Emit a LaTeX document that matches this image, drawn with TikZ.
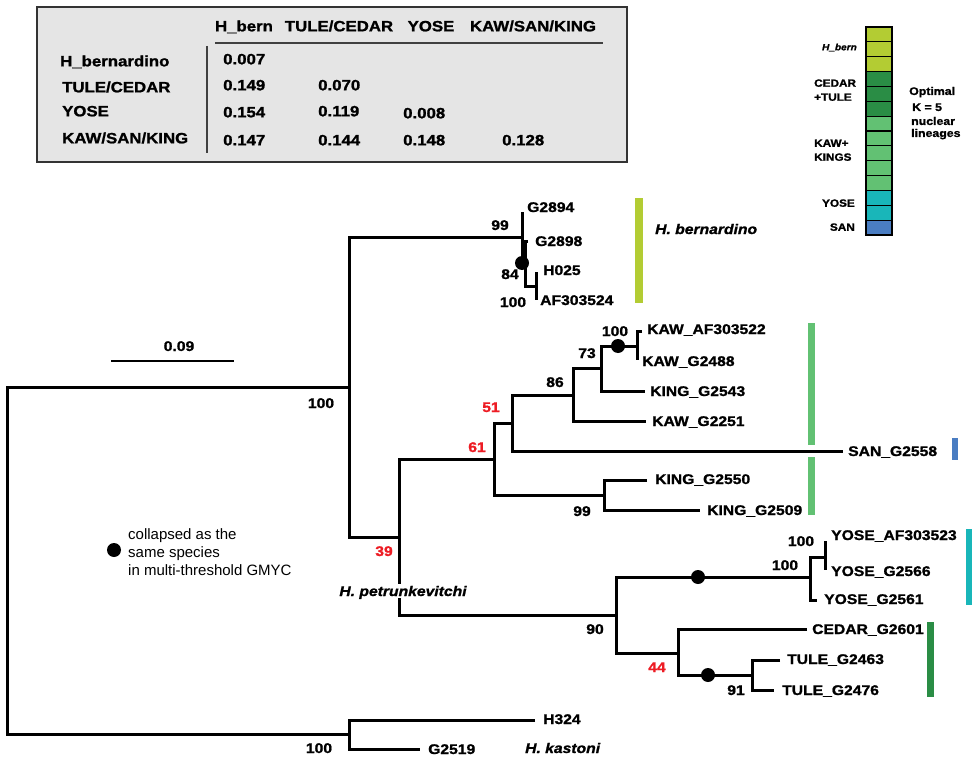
\documentclass[tikz,border=0pt]{standalone}
\usepackage{fontspec}
\setmainfont{Liberation Sans}[FakeStretch=1.12, BoldFeatures={FakeBold=1.3}, BoldItalicFeatures={FakeBold=1.3}]
\newfontfamily\plainsans{Liberation Sans}
\definecolor{cbern}{HTML}{B3CC33}
\definecolor{ckaw}{HTML}{62C173}
\definecolor{cteal}{HTML}{19B6B9}
\definecolor{cdkg}{HTML}{2A8D45}
\definecolor{cblue}{HTML}{4A7DC2}
\definecolor{ctab}{HTML}{E5E5E5}
\definecolor{cred}{HTML}{ED1C24}
\begin{document}
\begin{tikzpicture}[x=1pt,y=-1pt,
  br/.style={line width=3pt, line join=miter},
  tip/.style={anchor=west, inner sep=0pt, text height=10pt, text depth=0pt, font=\fontsize{14}{16}\selectfont\bfseries},
  spc/.style={anchor=west, inner sep=0pt, text height=10pt, text depth=0pt, font=\fontsize{14}{16}\selectfont\bfseries\itshape},
  supp/.style={inner sep=0pt, text height=10pt, text depth=0pt, font=\fontsize{14}{16}\selectfont\bfseries},
  rsupp/.style={supp, text=cred},
  tab/.style={inner sep=0pt, text height=10.7pt, text depth=0pt, font=\fontsize{15}{17}\selectfont\bfseries},
  leg/.style={anchor=west, inner sep=0pt, text height=7.5pt, text depth=0pt, font=\fontsize{10.5}{12}\selectfont\bfseries},
  opt/.style={anchor=west, inner sep=0pt, text height=7.9pt, text depth=0pt, font=\fontsize{11}{13}\selectfont\bfseries},
  dot/.style={circle, fill=black, inner sep=0pt, minimum size=14pt},
  cell/.style={draw=black, line width=1.2pt},
  bar/.style={draw=none}
]
\useasboundingbox (0,0) rectangle (972,757);

% ---------------- table ----------------
\draw[fill=ctab, draw=black!80, line width=1.5pt] (37,7) rectangle (627,162);
\node[tab] (h1) at (244,26) {H\_bern};
\node[tab] (h2) at (339,26) {TULE/CEDAR};
\node[tab] (h3) at (431,26) {YOSE};
\node[tab] (h4) at (533,26) {KAW/SAN/KING};
\coordinate (hl1) at (215,43); \coordinate (hl2) at (603,43);
\draw[line width=1.5pt, black!75] (hl1) -- (hl2);
\coordinate (vl1) at (207,46); \coordinate (vl2) at (207,153);
\draw[line width=1.5pt, black!75] (vl1) -- (vl2);
\node[tab, anchor=west] (r1) at (60,61) {H\_bernardino};
\node[tab, anchor=west] (r2) at (62,87) {TULE/CEDAR};
\node[tab, anchor=west] (r3) at (62,111) {YOSE};
\node[tab, anchor=west] (r4) at (62,138) {KAW/SAN/KING};
\node[tab, anchor=west] (v11) at (223,59) {0.007};
\node[tab, anchor=west] (v21) at (223,85) {0.149};
\node[tab, anchor=west] (v22) at (318,85) {0.070};
\node[tab, anchor=west] (v31) at (223,112) {0.154};
\node[tab, anchor=west] (v32) at (318,111) {0.119};
\node[tab, anchor=west] (v33) at (403,113) {0.008};
\node[tab, anchor=west] (v41) at (223,140) {0.147};
\node[tab, anchor=west] (v42) at (318,140) {0.144};
\node[tab, anchor=west] (v43) at (403,140) {0.148};
\node[tab, anchor=west] (v44) at (502,140) {0.128};

% ---------------- legend bar ----------------
\foreach \i/\c in {0/cbern,1/cbern,2/cbern,3/cdkg,4/cdkg,5/cdkg,6/ckaw,7/ckaw,8/ckaw,9/ckaw,10/ckaw,11/cteal,12/cteal,13/cblue}{
  \draw[cell, fill=\c] (866,{27+\i*14.857}) rectangle (892,{27+(\i+1)*14.857});
}
\node[inner sep=0pt, anchor=east, text height=6.5pt, text depth=0pt, font=\fontsize{9}{11}\selectfont\bfseries\itshape] (lb0) at (857,47) {H\_bern};
\node[leg] (lb1) at (814,83) {CEDAR};
\node[leg] (lb2) at (814,97) {+TULE};
\node[leg] (lb3) at (814,143) {KAW+};
\node[leg] (lb4) at (814,157) {KINGS};
\node[leg, anchor=east] (lb5) at (855,203) {YOSE};
\node[leg, anchor=east] (lb6) at (855,227) {SAN};
\node[opt] (o1) at (909,91) {Optimal};
\node[opt] (o2) at (912,107) {K = 5};
\node[opt] (o3) at (911,121) {nuclear};
\node[opt] (o4) at (911,133) {lineages};

% ---------------- tree coordinates ----------------
\coordinate (R) at (7,560);
\coordinate (I) at (349,387);
\coordinate (O) at (349,734);
\coordinate (B1) at (522,237);
\coordinate (B2) at (525,263);
\coordinate (B3) at (536,286);
\coordinate (tG2894) at (522,212);
\coordinate (tG2898) at (528,241);
\coordinate (tH025) at (536,272);
\coordinate (tAF4) at (536,300);
\coordinate (P) at (399,537);
\coordinate (N61) at (494,459);
\coordinate (N51) at (512,423);
\coordinate (N86) at (573,395);
\coordinate (N73) at (601,368);
\coordinate (N100) at (637,346);
\coordinate (tKAW22) at (642,331);
\coordinate (tKAW88) at (637,360);
\coordinate (tKING43) at (645,391);
\coordinate (tKAW51) at (646,421);
\coordinate (tSAN) at (843,451);
\coordinate (N99) at (604,495);
\coordinate (tKING50) at (647,480);
\coordinate (tKING09) at (700,510);
\coordinate (N90) at (616,615);
\coordinate (NY) at (810,577);
\coordinate (NY2) at (825,557);
\coordinate (tY23) at (825,541);
\coordinate (tY66) at (825,570);
\coordinate (tY61) at (817,600);
\coordinate (N44) at (678,653);
\coordinate (tCED) at (807,629);
\coordinate (N91) at (752,675);
\coordinate (tT63) at (780,660);
\coordinate (tT76) at (774,690);
\coordinate (tH324) at (535,720);
\coordinate (tG2519) at (420,749);

% ---------------- branches ----------------
\draw[br] (I) -| (R) |- (O);
\draw[br] (B1) -| (I) |- (P);
\draw[br] (tG2894) -| (B1) |- (B2);
\draw[br] (tG2898) -| (B2) |- (B3);
\draw[br] (tH025) -| (B3) |- (tAF4);
\draw[br] (N61) -| (P) |- (N90);
\draw[br] (N51) -| (N61) |- (N99);
\draw[br] (N86) -| (N51) |- (tSAN);
\draw[br] (N73) -| (N86) |- (tKAW51);
\draw[br] (N100) -| (N73) |- (tKING43);
\draw[br] (tKAW22) -| (N100) |- (tKAW88);
\draw[br] (tKING50) -| (N99) |- (tKING09);
\draw[br] (NY) -| (N90) |- (N44);
\draw[br] (NY2) -| (NY) |- (tY61);
\draw[br] (tY23) -| (NY2) |- (tY66);
\draw[br] (tCED) -| (N44) |- (N91);
\draw[br] (tT63) -| (N91) |- (tT76);
\draw[br] (tH324) -| (O) |- (tG2519);

% collapse dots
\node[dot] (d1) at (522,263) {};
\node[dot] (d2) at (618,346) {};
\node[dot] (d3) at (698,577) {};
\node[dot] (d4) at (708,675) {};

% ---------------- tip labels ----------------
\node[tip] (lG2894) at (527,207) {G2894};
\node[tip] (lG2898) at (535,241) {G2898};
\node[tip] (lH025) at (543,270) {H025};
\node[tip] (lAF4) at (540,300) {AF303524};
\node[tip] (lKAW22) at (647,329) {KAW\_AF303522};
\node[tip] (lKAW88) at (642,361) {KAW\_G2488};
\node[tip] (lKING43) at (650,391) {KING\_G2543};
\node[tip] (lKAW51) at (652,421) {KAW\_G2251};
\node[tip] (lSAN) at (848,451) {SAN\_G2558};
\node[tip] (lKING50) at (655,479) {KING\_G2550};
\node[tip] (lKING09) at (707,510) {KING\_G2509};
\node[tip] (lY23) at (831,535) {YOSE\_AF303523};
\node[tip] (lY66) at (831,571) {YOSE\_G2566};
\node[tip] (lY61) at (824,599) {YOSE\_G2561};
\node[tip] (lCED) at (812,629) {CEDAR\_G2601};
\node[tip] (lT63) at (787,659) {TULE\_G2463};
\node[tip] (lT76) at (782,690) {TULE\_G2476};
\node[tip] (lH324) at (543,719) {H324};
\node[tip] (lG2519) at (428,749) {G2519};

% species names
\node[spc] (sbern) at (655,229) {H. bernardino};
\node[spc] (skast) at (525,748) {H. kastoni};
\node[spc, anchor=center, fill=white, inner sep=2pt] (spet) at (403,591) {H. petrunkevitchi};

% ---------------- support values ----------------
\node[supp] (s1) at (500,225) {99};
\node[supp] (s2) at (510,274) {84};
\node[supp] (s3) at (513,302) {100};
\node[supp] (s4) at (321,403) {100};
\node[rsupp] (s5) at (384,551) {39};
\node[rsupp] (s6) at (491,407) {51};
\node[rsupp] (s7) at (477,447) {61};
\node[supp] (s8) at (555,382) {86};
\node[supp] (s9) at (587,353) {73};
\node[supp] (s10) at (615,331) {100};
\node[supp] (s11) at (582,511) {99};
\node[supp] (s12) at (595,629) {90};
\node[rsupp] (s13) at (657,667) {44};
\node[supp] (s14) at (801,541) {100};
\node[supp] (s15) at (785,565) {100};
\node[supp] (s16) at (736,690) {91};
\node[supp] (s17) at (319,748) {100};

% ---------------- clade bars ----------------
\fill[cbern] (635,198) rectangle (643,303);
\fill[ckaw] (808,323) rectangle (815,445);
\fill[ckaw] (808,457) rectangle (815,515);
\fill[cblue] (952,438) rectangle (958,460);
\fill[cteal] (966,529) rectangle (972,605);
\fill[cdkg] (927,622) rectangle (934,697);

% ---------------- scale bar ----------------
\coordinate (sb1) at (111,361); \coordinate (sb2) at (234,361);
\draw[line width=1.4pt] (sb1) -- (sb2);
\node[supp] (sbl) at (179,346) {0.09};

% ---------------- legend ----------------
\node[dot] (ld) at (114,550) {};
\node[anchor=west, inner sep=0pt, text height=10.7pt, text depth=0pt, font=\plainsans\fontsize{15}{18}\selectfont] (lt1) at (128,534) {collapsed as the};
\node[anchor=west, inner sep=0pt, text height=10.7pt, text depth=0pt, font=\plainsans\fontsize{15}{18}\selectfont] (lt2) at (128,552) {same species};
\node[anchor=west, inner sep=0pt, text height=10.7pt, text depth=0pt, font=\plainsans\fontsize{15}{18}\selectfont] (lt3) at (128,570) {in multi-threshold GMYC};
\end{tikzpicture}
\end{document}
